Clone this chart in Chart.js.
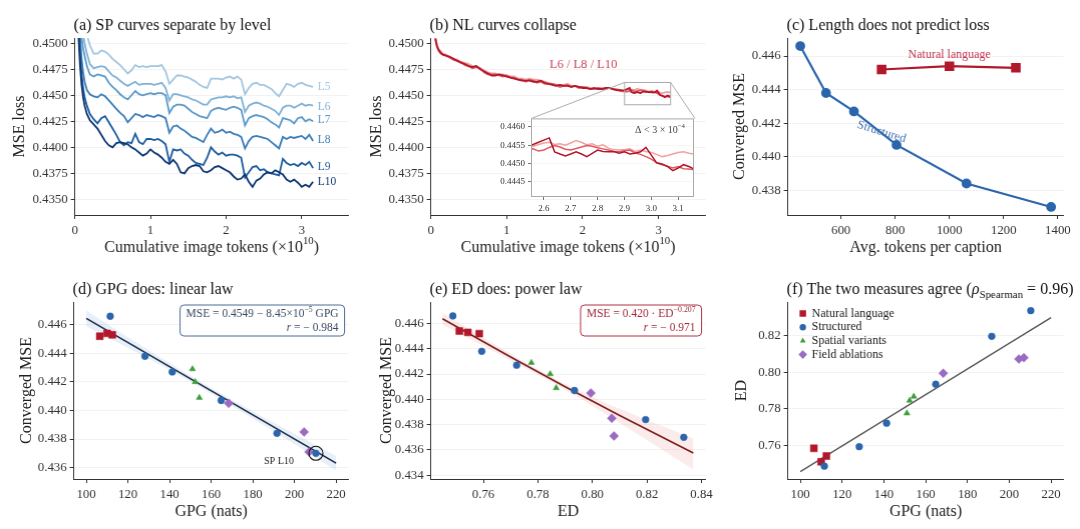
<!DOCTYPE html>
<html>
<head>
<meta charset="utf-8">
<title>Loss curves and compression measures</title>
<script src="https://cdn.jsdelivr.net/npm/chart.js@4.4.1/dist/chart.umd.min.js"></script>
<style>
  html, body { margin: 0; padding: 0; background: #fff; }
  body { position: relative; width: 1080px; height: 529px; overflow: hidden; }
  .panel { position: absolute; }
</style>
</head>
<body>
<div class="panel"><canvas id="chartA"></canvas></div>
<div class="panel"><canvas id="chartB"></canvas></div>
<div class="panel"><canvas id="chartInset"></canvas></div>
<div class="panel"><canvas id="chartC"></canvas></div>
<div class="panel"><canvas id="chartD"></canvas></div>
<div class="panel"><canvas id="chartE"></canvas></div>
<div class="panel"><canvas id="chartF"></canvas></div>
<script>
// ---- values ----

// (a) structured-prompt training curves, one per level
const aTokens = [0.03, 0.05, 0.07, 0.09, 0.11, 0.13, 0.16, 0.20, 0.25,
  0.30, 0.35, 0.40, 0.45, 0.50, 0.55, 0.60, 0.65, 0.70, 0.75,
  0.80, 0.85, 0.90, 0.95, 1.00, 1.05, 1.10, 1.15, 1.20, 1.25,
  1.30, 1.35, 1.40, 1.45, 1.50, 1.55, 1.60, 1.65, 1.70, 1.75,
  1.80, 1.85, 1.90, 1.95, 2.00, 2.05, 2.10, 2.15, 2.20, 2.25,
  2.30, 2.35, 2.40, 2.45, 2.50, 2.55, 2.60, 2.65, 2.70, 2.75,
  2.80, 2.85, 2.90, 2.95, 3.00, 3.05, 3.10, 3.15];
const aL5 = [0.4610, 0.4575, 0.4550, 0.4535, 0.4525, 0.4517, 0.4508, 0.4498, 0.4490,
  0.4490, 0.4493, 0.4492, 0.4489, 0.4485, 0.4482, 0.4479, 0.4475, 0.4471, 0.4474,
  0.4479, 0.4477, 0.4478, 0.4477, 0.4478, 0.4478, 0.4478, 0.4479, 0.4473, 0.4461,
  0.4465, 0.4469, 0.4469, 0.4468, 0.4467, 0.4465, 0.4463, 0.4460, 0.4458, 0.4457,
  0.4466, 0.4466, 0.4466, 0.4465, 0.4467, 0.4468, 0.4466, 0.4468, 0.4465, 0.4451,
  0.4457, 0.4461, 0.4462, 0.4460, 0.4460, 0.4458, 0.4456, 0.4452, 0.4449, 0.4455,
  0.4461, 0.4460, 0.4458, 0.4461, 0.4462, 0.4460, 0.4459, 0.4458];
const aL6 = [0.4600, 0.4560, 0.4535, 0.4520, 0.4508, 0.4500, 0.4490, 0.4480, 0.4476,
  0.4477, 0.4478, 0.4477, 0.4473, 0.4469, 0.4467, 0.4464, 0.4461, 0.4459, 0.4461,
  0.4463, 0.4460, 0.4461, 0.4461, 0.4461, 0.4460, 0.4461, 0.4462, 0.4457, 0.4445,
  0.4451, 0.4451, 0.4450, 0.4449, 0.4448, 0.4446, 0.4445, 0.4443, 0.4441, 0.4441,
  0.4446, 0.4447, 0.4448, 0.4448, 0.4449, 0.4448, 0.4449, 0.4447, 0.4448, 0.4434,
  0.4440, 0.4442, 0.4443, 0.4442, 0.4440, 0.4439, 0.4437, 0.4435, 0.4431, 0.4438,
  0.4440, 0.4440, 0.4438, 0.4440, 0.4442, 0.4440, 0.4441, 0.4440];
const aL7 = [0.4590, 0.4545, 0.4520, 0.4505, 0.4495, 0.4488, 0.4478, 0.4470, 0.4468,
  0.4470, 0.4469, 0.4468, 0.4462, 0.4458, 0.4455, 0.4451, 0.4448, 0.4446, 0.4450,
  0.4454, 0.4451, 0.4450, 0.4451, 0.4452, 0.4451, 0.4452, 0.4452, 0.4450, 0.4433,
  0.4439, 0.4441, 0.4441, 0.4440, 0.4437, 0.4434, 0.4432, 0.4430, 0.4429, 0.4428,
  0.4435, 0.4437, 0.4438, 0.4437, 0.4436, 0.4438, 0.4439, 0.4438, 0.4436, 0.4421,
  0.4428, 0.4430, 0.4431, 0.4430, 0.4429, 0.4427, 0.4424, 0.4422, 0.4419, 0.4428,
  0.4427, 0.4426, 0.4423, 0.4428, 0.4429, 0.4425, 0.4427, 0.4425];
const aL8 = [0.4580, 0.4530, 0.4505, 0.4485, 0.4472, 0.4463, 0.4455, 0.4451, 0.4449,
  0.4448, 0.4451, 0.4449, 0.4445, 0.4441, 0.4437, 0.4433, 0.4430, 0.4424, 0.4428,
  0.4432, 0.4431, 0.4429, 0.4431, 0.4430, 0.4429, 0.4431, 0.4430, 0.4428, 0.4414,
  0.4420, 0.4421, 0.4418, 0.4416, 0.4413, 0.4410, 0.4409, 0.4407, 0.4405, 0.4412,
  0.4418, 0.4414, 0.4415, 0.4417, 0.4414, 0.4415, 0.4413, 0.4412, 0.4410, 0.4399,
  0.4406, 0.4410, 0.4411, 0.4410, 0.4409, 0.4408, 0.4405, 0.4402, 0.4399, 0.4410,
  0.4408, 0.4410, 0.4409, 0.4410, 0.4411, 0.4408, 0.4412, 0.4406];
const aL9 = [0.4570, 0.4515, 0.4490, 0.4470, 0.4457, 0.4448, 0.4440, 0.4432, 0.4427,
  0.4423, 0.4428, 0.4430, 0.4424, 0.4418, 0.4412, 0.4405, 0.4402, 0.4405, 0.4404,
  0.4413, 0.4405, 0.4403, 0.4408, 0.4408, 0.4407, 0.4408, 0.4406, 0.4403, 0.4386,
  0.4398, 0.4397, 0.4398, 0.4394, 0.4392, 0.4388, 0.4385, 0.4384, 0.4383, 0.4390,
  0.4400, 0.4396, 0.4393, 0.4395, 0.4392, 0.4393, 0.4393, 0.4392, 0.4390, 0.4371,
  0.4376, 0.4381, 0.4382, 0.4378, 0.4379, 0.4376, 0.4375, 0.4374, 0.4373, 0.4389,
  0.4385, 0.4383, 0.4384, 0.4382, 0.4385, 0.4383, 0.4386, 0.4380];
const aL10 = [0.4560, 0.4505, 0.4478, 0.4460, 0.4448, 0.4440, 0.4432, 0.4426, 0.4422,
  0.4418, 0.4412, 0.4406, 0.4402, 0.4400, 0.4404, 0.4405, 0.4404, 0.4403, 0.4400,
  0.4398, 0.4395, 0.4392, 0.4394, 0.4398, 0.4395, 0.4393, 0.4390, 0.4386, 0.4384,
  0.4388, 0.4384, 0.4376, 0.4375, 0.4380, 0.4382, 0.4383, 0.4382, 0.4377, 0.4376,
  0.4378, 0.4381, 0.4382, 0.4380, 0.4378, 0.4376, 0.4372, 0.4369, 0.4370, 0.4374,
  0.4367, 0.4362, 0.4368, 0.4370, 0.4374, 0.4376, 0.4375, 0.4378, 0.4376, 0.4374,
  0.4369, 0.4367, 0.4369, 0.4366, 0.4362, 0.4364, 0.4362, 0.4367];
const aLevels = ['L5', 'L6', 'L7', 'L8', 'L9', 'L10'];

// (b) natural-language training curves
const bTokens = [0.06, 0.08, 0.10, 0.13, 0.16, 0.20, 0.25, 0.30, 0.35, 0.40, 0.45, 0.50,
  0.55, 0.60, 0.65, 0.70, 0.75, 0.80, 0.85, 0.90, 0.95, 1.00,
  1.05, 1.10, 1.15, 1.20, 1.25, 1.30, 1.35, 1.40, 1.45, 1.50,
  1.55, 1.60, 1.65, 1.70, 1.75, 1.80, 1.85, 1.90, 1.95, 2.00,
  2.05, 2.10, 2.15, 2.20, 2.25, 2.30, 2.35, 2.40, 2.45, 2.50,
  2.54, 2.56, 2.58, 2.60, 2.62, 2.64, 2.66, 2.68, 2.70, 2.72, 2.74, 2.76, 2.78, 2.80,
  2.82, 2.84, 2.86, 2.88, 2.90, 2.92, 2.94, 2.96, 2.98, 3.00,
  3.02, 3.04, 3.06, 3.08, 3.10, 3.12, 3.14, 3.16];
const bL6 = [0.4506, 0.4499, 0.4495, 0.4492, 0.4490, 0.4489, 0.4487, 0.4485, 0.4484, 0.4482, 0.4481, 0.4480,
  0.4478, 0.4478, 0.4476, 0.4474, 0.4472, 0.4471, 0.4471, 0.4470, 0.4470, 0.4469,
  0.4468, 0.4468, 0.4466, 0.4466, 0.4465, 0.4466, 0.4465, 0.4465, 0.4464, 0.4463,
  0.4462, 0.4461, 0.4460, 0.4460, 0.4460, 0.4461, 0.4459, 0.4459, 0.4458, 0.4458,
  0.4458, 0.4457, 0.4456, 0.4457, 0.4457, 0.4456, 0.4457, 0.4456, 0.4456, 0.4455,
  0.44544, 0.44547, 0.44552, 0.44556, 0.44558, 0.44552, 0.44554, 0.44550, 0.44556, 0.44563,
  0.44558, 0.44551, 0.44554, 0.44547, 0.44551, 0.44542, 0.44538, 0.44537, 0.44538, 0.44540,
  0.44533, 0.44537, 0.44533, 0.44530, 0.44525, 0.44519, 0.44522, 0.44526, 0.44530, 0.44532,
  0.44528, 0.44526];
const bL8 = [0.4505, 0.4498, 0.4493, 0.4490, 0.4489, 0.4488, 0.4486, 0.4484, 0.4483, 0.4482, 0.4479, 0.4478,
  0.4476, 0.4477, 0.4476, 0.4472, 0.4470, 0.4470, 0.4470, 0.4469, 0.4468, 0.4469,
  0.4467, 0.4467, 0.4465, 0.4465, 0.4463, 0.4465, 0.4464, 0.4462, 0.4463, 0.4461,
  0.4461, 0.4461, 0.4460, 0.4458, 0.4459, 0.4460, 0.4458, 0.4459, 0.4457, 0.4458,
  0.4457, 0.4456, 0.4456, 0.4457, 0.4456, 0.4456, 0.4457, 0.4456, 0.4455, 0.4454,
  0.44538, 0.44540, 0.44534, 0.44537, 0.44544, 0.44549, 0.44545, 0.44539, 0.44537, 0.44541,
  0.44545, 0.44549, 0.44547, 0.44543, 0.44540, 0.44537, 0.44533, 0.44532, 0.44535, 0.44537,
  0.44529, 0.44525, 0.44519, 0.44512, 0.44502, 0.44497, 0.44493, 0.44488, 0.44492, 0.44486,
  0.44485, 0.44483];
const bL10 = [0.4504, 0.4497, 0.4494, 0.4491, 0.4489, 0.4488, 0.4487, 0.4485, 0.4483, 0.4481, 0.4480, 0.4478,
  0.4477, 0.4478, 0.4475, 0.4473, 0.4471, 0.4469, 0.4469, 0.4470, 0.4469, 0.4468,
  0.4467, 0.4466, 0.4465, 0.4464, 0.4464, 0.4464, 0.4463, 0.4463, 0.4464, 0.4462,
  0.4461, 0.4460, 0.4459, 0.4460, 0.4459, 0.4459, 0.4458, 0.4459, 0.4458, 0.4457,
  0.4457, 0.4456, 0.4457, 0.4456, 0.4456, 0.4457, 0.4457, 0.4456, 0.4455, 0.4455,
  0.44545, 0.44552, 0.44558, 0.44564, 0.44570, 0.44532, 0.44526, 0.44521, 0.44526, 0.44532,
  0.44526, 0.44519, 0.44528, 0.44537, 0.44533, 0.44532, 0.44533, 0.44528, 0.44532, 0.44526,
  0.44528, 0.44532, 0.44544, 0.44523, 0.44502, 0.44499, 0.44492, 0.44481, 0.44488, 0.44497,
  0.44492, 0.44485];

// (c) converged loss against caption length
const cStructTokens = [450, 545, 648, 805, 1063, 1375];
const cStructMse = [0.4466, 0.4438, 0.4427, 0.4407, 0.4384, 0.4370];
const cNlTokens = [750, 1000, 1245];
const cNlMse = [0.4452, 0.4454, 0.4453];

// (d)-(f) one point per caption format
const nlGpg = [106.5, 110.0, 112.5];
const nlEd = [0.7585, 0.7512, 0.7543];
const nlMse = [0.4452, 0.4454, 0.4453];
const stGpg = [111.5, 128.2, 141.3, 164.8, 191.6, 210.3];
const stEd = [0.7488, 0.7594, 0.7722, 0.7934, 0.8195, 0.8335];
const stMse = [0.4466, 0.4438, 0.4427, 0.4407, 0.4384, 0.4370];
const spGpg = [151.0, 152.3, 154.3];
const spEd = [0.7776, 0.7845, 0.7867];
const spMse = [0.4429, 0.4420, 0.4409];
const faGpg = [168.4, 204.6, 207.0];
const faEd = [0.7994, 0.8071, 0.8079];
const faMse = [0.4405, 0.4385, 0.4371];

// fitted lines and bands as drawn
const dFitX = [100, 220];
const dFitY = [0.44645, 0.43631];
const dBandX = [100, 130, 160, 190, 220];
const dBandHi = [0.44700, 0.44422, 0.44158, 0.43915, 0.43681];
const dBandLo = [0.44590, 0.44362, 0.44118, 0.43855, 0.43581];
const eFitX = [0.745, 0.770, 0.790, 0.810, 0.837];
const eFitY = [0.44638, 0.44335, 0.44100, 0.43872, 0.43576];
const eBandHi = [0.44685, 0.44360, 0.44122, 0.43925, 0.43690];
const eBandLo = [0.44592, 0.44308, 0.44076, 0.43815, 0.43445];
const fFitX = [100, 220];
const fFitY = [0.7458, 0.8297];

// tick values
const abXTicks = [0, 1, 2, 3];
const abYTicks = [0.4350, 0.4375, 0.4400, 0.4425, 0.4450, 0.4475, 0.4500];
const insetXTicks = [2.6, 2.7, 2.8, 2.9, 3.0, 3.1];
const insetYTicks = [0.4445, 0.4450, 0.4455, 0.4460];
const cXTicks = [600, 800, 1000, 1200, 1400];
const cYTicks = [0.438, 0.440, 0.442, 0.444, 0.446];
const gpgTicks = [100, 120, 140, 160, 180, 200, 220];
const dYTicks = [0.436, 0.438, 0.440, 0.442, 0.444, 0.446];
const eXTicks = [0.76, 0.78, 0.80, 0.82, 0.84];
const eYTicks = [0.434, 0.436, 0.438, 0.440, 0.442, 0.444, 0.446];
const fYTicks = [0.76, 0.78, 0.80, 0.82];

// ---- styling ----
const FONT = "'Liberation Serif', 'DejaVu Serif', serif";
const TICK_PX = 12.8;
const AXIS_PX = 16;
const TITLE_PX = 16;
const levelColors = ['#a3c6e0', '#80b2d7', '#5b9acb', '#3b7db8', '#1d5c9e', '#0c3572'];
const aLabelX = 3.21;
const aLabelY = [0.44577, 0.44385, 0.44260, 0.44067, 0.43808, 0.43663];
const nlColors = ['#f2a19e', '#de5b63', '#b3172d'];
const NL_RED = '#b2182b';
const ST_BLUE = '#2b65ac';
const SP_GREEN = '#3a9e3a';
const FA_PURPLE = '#9a6bc1';

Chart.defaults.font.family = FONT;
Chart.defaults.color = '#333';

// text with super/subscripts
function drawRich(ctx, parts, x, y, o) {
  const size = o.size;
  const fontOf = p => (p.it ? 'italic ' : '') + ((p.sup || p.sub) ? size * 0.68 : size) + 'px ' + FONT;
  let w = 0;
  parts.forEach(p => { ctx.font = fontOf(p); w += ctx.measureText(p.t).width; });
  let cx = o.align === 'right' ? x - w : o.align === 'center' ? x - w / 2 : x;
  ctx.save();
  ctx.fillStyle = o.color || '#111';
  ctx.textBaseline = 'middle';
  ctx.textAlign = 'left';
  parts.forEach(p => {
    ctx.font = fontOf(p);
    const dy = p.sup ? -size * 0.38 : p.sub ? size * 0.3 : 0;
    ctx.fillText(p.t, cx, y + dy);
    cx += ctx.measureText(p.t).width;
  });
  ctx.restore();
  return w;
}

const panelInfo = {};
Chart.register({
  id: 'panelExtras',
  beforeDraw(chart) {
    const info = panelInfo[chart.canvas.id];
    if (info && info.before) info.before(chart, chart.ctx, chart.chartArea);
  },
  afterDraw(chart) {
    const info = panelInfo[chart.canvas.id];
    if (!info) return;
    const ctx = chart.ctx, a = chart.chartArea;
    if (info.title) drawRich(ctx, info.title, a.left - 1, a.top - 12, {size: TITLE_PX, color: '#111'});
    if (info.xTitle) drawRich(ctx, info.xTitle, (a.left + a.right) / 2, a.bottom + 32.5, {size: AXIS_PX, color: '#222', align: 'center'});
    if (info.draw) info.draw(chart, ctx, a, chart.scales.x, chart.scales.y);
  }
});

function placeCanvas(id, area, yTitleX) {
  const lay = {padTop: 30, padRight: 16, xH: 42};
  const left = yTitleX - AXIS_PX * 0.6;
  lay.yW = area.x0 - left;
  Object.assign(document.getElementById(id).parentNode.style, {
    left: left + 'px', top: (area.y0 - lay.padTop) + 'px',
    width: (area.x1 - left + lay.padRight) + 'px',
    height: (lay.padTop + area.y1 - area.y0 + lay.xH) + 'px'
  });
  return lay;
}

function mkAxis(dir, lay, min, max, ticks, digits, title, o) {
  o = o || {};
  const isX = dir === 'x';
  return {
    type: 'linear', position: isX ? 'bottom' : 'left', min: min, max: max,
    afterBuildTicks: s => { s.ticks = ticks.map(v => ({value: v})); },
    afterFit: s => { if (isX) s.height = lay.xH; else s.width = lay.yW; },
    ticks: {
      callback: v => Number(v).toFixed(digits),
      font: {family: FONT, size: o.font || TICK_PX}, color: '#333',
      padding: o.pad !== undefined ? o.pad : (isX ? 4 : 3), maxRotation: 0, autoSkip: false
    },
    grid: {
      drawOnChartArea: !isX, color: o.grid || '#efefef', lineWidth: 0.8,
      tickColor: o.tickColor || '#333', tickLength: o.tickLen || 4, tickWidth: 1
    },
    border: {display: !o.noBorder, color: '#333', width: 1},
    title: {display: !!title, text: title || '', font: {family: FONT, size: AXIS_PX}, color: '#222', padding: 0}
  };
}

function chartOptions(lay, x, y) {
  return {
    responsive: true, maintainAspectRatio: false, animation: false, events: [],
    layout: {padding: {top: lay.padTop, right: lay.padRight, bottom: 0, left: 0}},
    plugins: {legend: {display: false}, tooltip: {enabled: false}},
    scales: {x: x, y: y}
  };
}

const pts = (xs, ys) => xs.map((x, i) => ({x: x, y: ys[i]}));
function lineDs(xs, ys, color, width, order) {
  return {data: pts(xs, ys), showLine: true, borderColor: color, borderWidth: width,
    pointRadius: 0, fill: false, order: order, tension: 0};
}
function scatterDs(xs, ys, style, color, r, order) {
  return {data: pts(xs, ys), showLine: false, pointStyle: style, pointRadius: r,
    backgroundColor: color, borderColor: color, borderWidth: 0.5, order: order};
}
function bandDs(xs, lo, hi, color, order) {
  return [
    {data: pts(xs, lo), showLine: true, borderWidth: 0, pointRadius: 0, fill: false, order: order, tension: 0.3},
    {data: pts(xs, hi), showLine: true, borderWidth: 0, pointRadius: 0, fill: '-1', backgroundColor: color, order: order, tension: 0.3}
  ];
}
function groupSets(nx, ny, sx, sy, px, py, fx, fy) {
  return [
    scatterDs(fx, fy, 'rectRot', FA_PURPLE, 4.5, 5),
    scatterDs(px, py, 'triangle', SP_GREEN, 3.5, 4),
    scatterDs(nx, ny, 'rect', NL_RED, 4.9, 3),
    scatterDs(sx, sy, 'circle', ST_BLUE, 3.4, 2)
  ];
}
function annotBox(ctx, a, lines, border, color) {
  const size = 11.5;
  let w = 0;
  const tmp = document.createElement('canvas').getContext('2d');
  lines.forEach(l => { w = Math.max(w, drawRich(tmp, l, 0, 0, {size: size})); });
  const right = a.right - 4, top = a.top + 3, h = 31, left = right - w - 12;
  ctx.save();
  ctx.beginPath();
  ctx.roundRect(left, top, right - left, h, 4);
  ctx.fillStyle = 'rgba(255,255,255,0.9)';
  ctx.fill();
  ctx.strokeStyle = border; ctx.lineWidth = 1; ctx.stroke();
  ctx.restore();
  lines.forEach((l, i) => drawRich(ctx, l, right - 6, top + 9 + i * 13.5, {size: size, color: color, align: 'right'}));
}

// ---- (a) ----
const layA = placeCanvas('chartA', {x0: 75, x1: 348, y0: 38, y1: 215}, 20);
const aSeries = [aL5, aL6, aL7, aL8, aL9, aL10];
panelInfo.chartA = {
  title: [{t: '(a) SP curves separate by level'}],
  xTitle: [{t: 'Cumulative image tokens (×10'}, {t: '10', sup: true}, {t: ')'}],
  draw(chart, ctx, a, sx, sy) {
    aLevels.forEach((lv, i) => drawRich(ctx, [{t: lv}], sx.getPixelForValue(aLabelX),
      sy.getPixelForValue(aLabelY[i]), {size: 11.5, color: levelColors[i]}));
  }
};
new Chart('chartA', {
  type: 'scatter',
  data: {datasets: aSeries.map((s, i) => lineDs(aTokens, s, levelColors[i], 1.8, 10 - i))},
  options: chartOptions(layA, mkAxis('x', layA, 0, 3.62, abXTicks, 0, ''),
    mkAxis('y', layA, 0.4335, 0.4505, abYTicks, 4, 'MSE loss'))
});

// ---- (b) inset, drawn first so the main panel can link to it ----
const layIn = {padTop: 5, padRight: 10, xH: 17, yW: 41};
Object.assign(document.getElementById('chartInset').parentNode.style,
  {left: '490px', top: '110px', width: '214px', height: '104px'});
const bSeries = [bL6, bL8, bL10];
panelInfo.chartInset = {
  before(chart, ctx, a) {
    ctx.save(); ctx.fillStyle = '#fff';
    ctx.fillRect(a.left, a.top, a.right - a.left, a.bottom - a.top); ctx.restore();
  },
  draw(chart, ctx, a) {
    ctx.save(); ctx.strokeStyle = '#aaa'; ctx.lineWidth = 1;
    ctx.strokeRect(a.left + 0.5, a.top + 0.5, a.right - a.left - 1, a.bottom - a.top - 1); ctx.restore();
    drawRich(ctx, [{t: 'Δ < 3 × 10'}, {t: '−4', sup: true}], a.right - 9, a.top + 12, {size: 10, color: '#444', align: 'right'});
  }
};
const insetOpts = {font: 9, tickLen: 3, pad: 3, noBorder: true, tickColor: '#777', grid: '#f3f3f3'};
const insetChart = new Chart('chartInset', {
  type: 'scatter',
  data: {datasets: bSeries.map((s, i) => lineDs(bTokens, s, nlColors[i], 1.5, 10 - i))},
  options: chartOptions(layIn, mkAxis('x', layIn, 2.552, 3.159, insetXTicks, 1, '', insetOpts),
    mkAxis('y', layIn, 0.44409, 0.44623, insetYTicks, 4, '', insetOpts))
});

// ---- (b) ----
const layB = placeCanvas('chartB', {x0: 431, x1: 705, y0: 38, y1: 215}, 377);
panelInfo.chartB = {
  title: [{t: '(b) NL curves collapse'}],
  xTitle: [{t: 'Cumulative image tokens (×10'}, {t: '10', sup: true}, {t: ')'}],
  draw(chart, ctx, a, sx, sy) {
    drawRich(ctx, [{t: 'L6 / L8 / L10'}], sx.getPixelForValue(2.01), sy.getPixelForValue(0.4479),
      {size: 12.5, color: '#c8405a', align: 'center'});
    const x0 = sx.getPixelForValue(2.552), x1 = sx.getPixelForValue(3.159);
    const y0 = sy.getPixelForValue(0.44623), y1 = sy.getPixelForValue(0.44409);
    const ia = insetChart.chartArea;
    const wrapIn = insetChart.canvas.parentNode, wrapB = chart.canvas.parentNode;
    const ox = wrapIn.offsetLeft - wrapB.offsetLeft, oy = wrapIn.offsetTop - wrapB.offsetTop;
    ctx.save();
    ctx.strokeStyle = '#aaa'; ctx.lineWidth = 1;
    ctx.strokeRect(x0, y0, x1 - x0, y1 - y0);
    ctx.beginPath();
    ctx.moveTo(x0, y0); ctx.lineTo(ia.left + ox, ia.top + oy);
    ctx.moveTo(x1, y0); ctx.lineTo(ia.right + ox, ia.top + oy);
    ctx.stroke();
    ctx.restore();
  }
};
new Chart('chartB', {
  type: 'scatter',
  data: {datasets: bSeries.map((s, i) => lineDs(bTokens, s, nlColors[i], 1.8, 10 - i))},
  options: chartOptions(layB, mkAxis('x', layB, 0, 3.62, abXTicks, 0, ''),
    mkAxis('y', layB, 0.4335, 0.4505, abYTicks, 4, 'MSE loss'))
});

// ---- (c) ----
const layC = placeCanvas('chartC', {x0: 788, x1: 1063, y0: 38, y1: 215}, 740);
panelInfo.chartC = {
  title: [{t: '(c) Length does not predict loss'}],
  draw(chart, ctx, a, sx, sy) {
    drawRich(ctx, [{t: 'Natural language'}], sx.getPixelForValue(1000), sy.getPixelForValue(0.4461),
      {size: 12, color: '#c0304a', align: 'center'});
    ctx.save();
    ctx.translate(sx.getPixelForValue(750), sy.getPixelForValue(0.44148));
    ctx.rotate(17 * Math.PI / 180);
    drawRich(ctx, [{t: 'Structured'}], 0, 0, {size: 12, color: '#3a6db0', align: 'center'});
    ctx.restore();
  }
};
new Chart('chartC', {
  type: 'scatter',
  data: {datasets: [
    Object.assign(lineDs(cNlTokens, cNlMse, NL_RED, 2.2, 1), {pointStyle: 'rect', pointRadius: 5.2, backgroundColor: NL_RED}),
    Object.assign(lineDs(cStructTokens, cStructMse, ST_BLUE, 2.2, 2), {pointStyle: 'circle', pointRadius: 3.8, backgroundColor: ST_BLUE})
  ]},
  options: chartOptions(layC, mkAxis('x', layC, 404, 1421, cXTicks, 0, 'Avg. tokens per caption'),
    mkAxis('y', layC, 0.43652, 0.44708, cYTicks, 3, 'Converged MSE'))
});

// ---- (d) ----
const layD = placeCanvas('chartD', {x0: 74, x1: 348, y0: 302, y1: 479}, 27);
panelInfo.chartD = {
  title: [{t: '(d) GPG does: linear law'}],
  draw(chart, ctx, a, sx, sy) {
    annotBox(ctx, a, [
      [{t: 'MSE = 0.4549 − 8.45×10'}, {t: '−5', sup: true}, {t: ' GPG'}],
      [{t: 'r', it: true}, {t: ' = − 0.984'}]
    ], '#4a6a94', '#3b4a66');
    const px = sx.getPixelForValue(stGpg[5]), py = sy.getPixelForValue(stMse[5]);
    ctx.save();
    ctx.beginPath(); ctx.arc(px, py, 7, 0, Math.PI * 2);
    ctx.strokeStyle = '#111'; ctx.lineWidth = 1.1; ctx.stroke();
    ctx.restore();
    drawRich(ctx, [{t: 'SP L10'}], px - 22, py + 8, {size: 10, color: '#222', align: 'right'});
  }
};
new Chart('chartD', {
  type: 'scatter',
  data: {datasets: [
    ...bandDs(dBandX, dBandLo, dBandHi, 'rgba(120,165,220,0.18)', 20),
    lineDs(dFitX, dFitY, '#1c2b45', 1.6, 10),
    ...groupSets(nlGpg, nlMse, stGpg, stMse, spGpg, spMse, faGpg, faMse)
  ]},
  options: chartOptions(layD, mkAxis('x', layD, 94, 226, gpgTicks, 0, 'GPG (nats)'),
    mkAxis('y', layD, 0.4352, 0.4476, dYTicks, 3, 'Converged MSE'))
});

// ---- (e) ----
const layE = placeCanvas('chartE', {x0: 431, x1: 705, y0: 302, y1: 479}, 387);
panelInfo.chartE = {
  title: [{t: '(e) ED does: power law'}],
  draw(chart, ctx, a) {
    annotBox(ctx, a, [
      [{t: 'MSE = 0.420 · ED'}, {t: '−0.207', sup: true}],
      [{t: 'r', it: true}, {t: ' = − 0.971'}]
    ], '#b03040', '#a02a3a');
  }
};
new Chart('chartE', {
  type: 'scatter',
  data: {datasets: [
    ...bandDs(eFitX, eBandLo, eBandHi, 'rgba(230,120,120,0.15)', 20),
    lineDs(eFitX, eFitY, '#7f1d1d', 1.6, 10),
    ...groupSets(nlEd, nlMse, stEd, stMse, spEd, spMse, faEd, faMse)
  ]},
  options: chartOptions(layE, mkAxis('x', layE, 0.7407, 0.8415, eXTicks, 2, 'ED'),
    mkAxis('y', layE, 0.4337, 0.4477, eYTicks, 3, 'Converged MSE'))
});

// ---- (f) ----
const layF = placeCanvas('chartF', {x0: 788, x1: 1063, y0: 302, y1: 479}, 742);
const legendItems = [
  ['rect', NL_RED, 'Natural language', 4.6],
  ['circle', ST_BLUE, 'Structured', 3.2],
  ['triangle', SP_GREEN, 'Spatial variants', 3.3],
  ['rectRot', FA_PURPLE, 'Field ablations', 4.3]
];
panelInfo.chartF = {
  title: [{t: '(f) The two measures agree ('}, {t: 'ρ', it: true}, {t: 'Spearman', sub: true}, {t: ' = 0.96)'}],
  draw(chart, ctx, a) {
    legendItems.forEach((it, i) => {
      const y = a.top + 11.5 + i * 13.7;
      ctx.save();
      ctx.fillStyle = it[1]; ctx.strokeStyle = it[1];
      Chart.helpers.drawPoint(ctx, {pointStyle: it[0], radius: it[3], borderWidth: 0, rotation: 0}, a.left + 15, y);
      ctx.restore();
      drawRich(ctx, [{t: it[2]}], a.left + 24, y, {size: 12, color: '#222'});
    });
  }
};
new Chart('chartF', {
  type: 'scatter',
  data: {datasets: [
    lineDs(fFitX, fFitY, '#555', 1.3, 10),
    ...groupSets(nlGpg, nlEd, stGpg, stEd, spGpg, spEd, faGpg, faEd)
  ]},
  options: chartOptions(layF, mkAxis('x', layF, 94, 226, gpgTicks, 0, 'GPG (nats)'),
    mkAxis('y', layF, 0.7418, 0.8382, fYTicks, 2, 'ED'))
});
</script>
</body>
</html>
